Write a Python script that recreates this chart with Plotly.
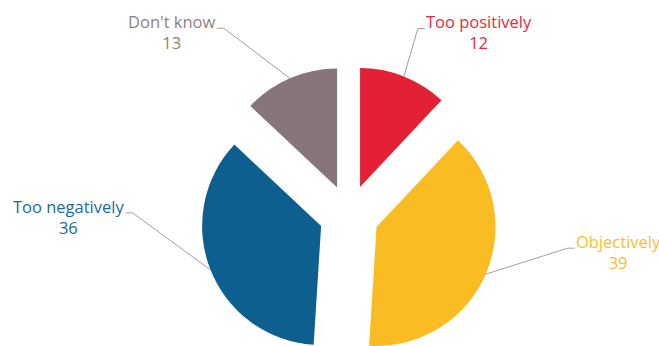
import math
import plotly.graph_objects as go

# ---- data ----
categories = ["Too positively", "Objectively", "Too negatively", "Don't know"]
values = [12, 39, 36, 13]
slice_colors = ["#E42134", "#F9BC22", "#0D5F8F", "#877679"]
label_colors = ["#E62A40", "#F9BE2C", "#1C68A0", "#8F7F82"]

# ---- layout constants (pixels) ----
W, H_VIEW, H = 659, 346, 380          # canvas is taller; the bottom is clipped to H_VIEW
CX, CY, R, PULL = 349, 215, 119, 0.252
# leader-line elbow offset from the slice edge, per category
ELBOW = [(14, -48), (82, -26), (-78, -57), (-66, -50)]
STUB = 7
FONT = "Open Sans"


def px(x, y):
    return x / W, 1 - y / H


half = R * (1 + PULL)
dom_x = [(CX - half) / W, (CX + half) / W]
dom_y = [1 - (CY + half) / H, 1 - (CY - half) / H]

fig = go.Figure(
    go.Pie(
        labels=categories,
        values=values,
        sort=False,
        direction="clockwise",
        rotation=0,
        pull=PULL,
        marker=dict(colors=slice_colors, line=dict(width=0)),
        textinfo="none",
        hoverinfo="label+value",
        domain=dict(x=dom_x, y=dom_y),
        showlegend=False,
    )
)

total = sum(values)
cum = 0.0
shapes, annotations = [], []
for name, v, col, (dx, dy) in zip(categories, values, label_colors, ELBOW):
    mid = 2 * math.pi * (cum + v / 2) / total
    cum += v
    sx, sy = math.sin(mid), -math.cos(mid)
    # outer edge of the pulled slice at its mid-angle
    ax, ay = CX + (1 + PULL) * R * sx, CY + (1 + PULL) * R * sy
    ex, ey = ax + dx, ay + dy
    side = 1 if dx > 0 else -1
    tx = ex + side * STUB
    p0, p1, p2 = px(ax, ay), px(ex, ey), px(tx, ey)
    shapes.append(dict(
        type="path", xref="paper", yref="paper",
        path=f"M {p0[0]} {p0[1]} L {p1[0]} {p1[1]} L {p2[0]} {p2[1]}",
        line=dict(color="#A0A0A0", width=1),
    ))
    lx, ly = px(tx, ey + 4)
    annotations.append(dict(
        xref="paper", yref="paper", x=lx, y=ly,
        xanchor="left" if side > 0 else "right", yanchor="middle",
        text=f"{name}<br>{v}", align="center", showarrow=False, borderpad=0,
        font=dict(family=FONT, size=16.5, color=col),
    ))

fig.update_layout(
    width=W, height=H,
    margin=dict(l=0, r=0, t=0, b=0),
    paper_bgcolor="white", plot_bgcolor="white",
    shapes=shapes, annotations=annotations,
)

clip = (
    "var gd=document.getElementById('{plot_id}');"
    "var p=gd.parentElement; p.style.height='%dpx'; p.style.overflow='hidden';"
    "document.body.style.margin='0'; document.body.style.overflow='hidden';" % H_VIEW
)
fig.write_html("out.html", post_script=clip)
